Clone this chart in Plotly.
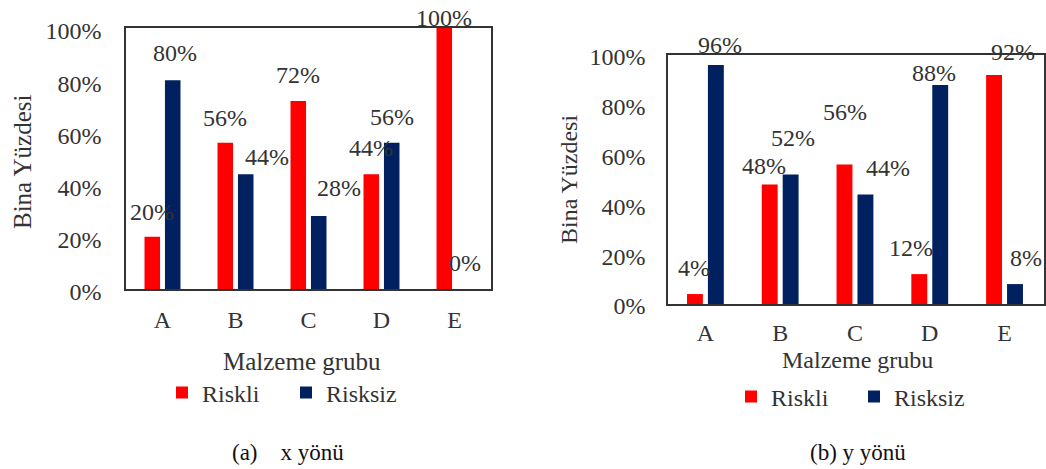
import plotly.graph_objects as go

# Building share (%) per material group, for the two loading directions
categories = ["A", "B", "C", "D", "E"]
riskli_x = [20, 56, 72, 44, 100]
risksiz_x = [80, 44, 28, 56, 0]
riskli_y = [4, 48, 56, 12, 92]
risksiz_y = [96, 52, 44, 88, 8]
y_ticks = [0, 20, 40, 60, 80, 100]
y_tick_labels = [f"{v}%" for v in y_ticks]

RED = "#FF0000"
NAVY = "#002060"
FONT = "Liberation Serif, Times New Roman, serif"
TXT = "#333333"
W, H = 1046, 469
BARGAP = 0.44

# label nudges in px (dx, dy-up) per bar, so overlapping labels stay readable
nudge_x = {
    "Riskli": [(0, 25), (0, 25), (0, 26), (0, 26), (0, 10)],
    "Risksiz": [(2, 27), (21, 17), (20, 28), (0, 26), (0, 26)],
}
nudge_y = {
    "Riskli": [(-1, 26), (-6, 18), (1, 53), (-8, 26), (19, 23)],
    "Risksiz": [(4, 20), (2, 37), (23, 26), (-6, 12), (11, 26)],
}

fig = go.Figure()

panels = [
    ("x", "y", "legend", riskli_x, risksiz_x, nudge_x),
    ("x2", "y2", "legend2", riskli_y, risksiz_y, nudge_y),
]

annotations = []
for xa, ya, leg, red_vals, blue_vals, nudges in panels:
    for name, vals, color, side in (("Riskli", red_vals, RED, -1), ("Risksiz", blue_vals, NAVY, 1)):
        fig.add_trace(go.Bar(
            x=categories, y=vals, name=name, marker=dict(color=color, line=dict(width=0)),
            xaxis=xa, yaxis=ya, legend=leg, hoverinfo="skip",
        ))
        for i, v in enumerate(vals):
            dx, dy = nudges[name][i]
            annotations.append(dict(
                x=i + side * (1 - BARGAP) / 4, y=v, xref=xa, yref=ya,
                text=f"{v}%", showarrow=False, xanchor="center", yanchor="middle",
                xshift=dx, yshift=dy, font=dict(family=FONT, size=24, color=TXT),
            ))


def px_x(a, b):
    return [a / W, b / W]


def px_y(top, bottom):
    return [1 - bottom / H, 1 - top / H]


axis_common = dict(
    showline=True, mirror=True, linecolor="#333333", linewidth=1.5,
    showgrid=False, zeroline=False, ticks="", automargin=False,
    tickfont=dict(family=FONT, size=24, color=TXT),
)

legend_common = dict(
    orientation="h", xanchor="left", yanchor="middle",
    font=dict(family=FONT, size=24, color=TXT), bgcolor="rgba(0,0,0,0)",
)

fig.update_layout(
    width=W, height=H, margin=dict(l=0, r=0, t=0, b=0, autoexpand=False),
    paper_bgcolor="white", plot_bgcolor="white",
    barmode="group", bargap=BARGAP, bargroupgap=0.24,
    showlegend=True,
    xaxis=dict(domain=px_x(126, 491), anchor="y", ticklabelstandoff=8, **axis_common),
    yaxis=dict(domain=px_y(28, 289), anchor="x", range=[0, 100], tickvals=y_ticks,
               ticktext=y_tick_labels, ticklabelstandoff=18, ticklabelshift=3,
               **axis_common),
    xaxis2=dict(domain=px_x(668, 1044), anchor="y2", ticklabelstandoff=6, **axis_common),
    yaxis2=dict(domain=px_y(55, 304), anchor="x2", range=[0, 100], tickvals=y_ticks,
                ticktext=y_tick_labels, ticklabelstandoff=16, ticklabelshift=2,
                **axis_common),
    legend=dict(x=162 / W, y=1 - 393 / H, entrywidth=79, **legend_common),
    legend2=dict(x=731 / W, y=1 - 397 / H, entrywidth=78, **legend_common),
)

# axis titles and panel captions
titles = [
    dict(text="Malzeme grubu", x=302 / W, y=1 - 361 / H, size=25),
    dict(text="Malzeme grubu", x=857 / W, y=1 - 360 / H, size=24),
    dict(text="(a)\u00a0\u00a0\u00a0\u00a0x yönü", x=288 / W, y=1 - 452 / H, size=23, color="#111111"),
    dict(text="(b) y yönü", x=858 / W, y=1 - 452 / H, size=23, color="#111111"),
]
for t in titles:
    annotations.append(dict(
        text=t["text"], x=t["x"], y=t["y"], xref="paper", yref="paper",
        xanchor="center", yanchor="middle", showarrow=False,
        font=dict(family=FONT, size=t["size"], color=t.get("color", TXT)),
    ))
for x, y, size in ((22, 162, 25), (569, 180, 24)):
    annotations.append(dict(
        text="Bina Yüzdesi", x=x / W, y=1 - y / H, xref="paper", yref="paper",
        xanchor="center", yanchor="middle", showarrow=False, textangle=-90,
        font=dict(family=FONT, size=size, color=TXT),
    ))

fig.update_layout(annotations=annotations)
fig.write_html("out.html")
